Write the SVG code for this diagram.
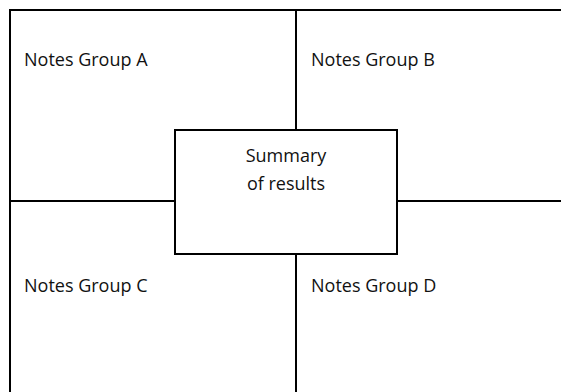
<svg xmlns="http://www.w3.org/2000/svg" width="561" height="392" viewBox="0 0 561 392">
  <style>
    .ln { stroke: #000; stroke-width: 2; fill: none; }
    .box { fill: #fff; stroke: #000; stroke-width: 2; }
    .t { font-family: "Open Sans", "Noto Sans", sans-serif; font-size: 18px; fill: #111; }
    .c { text-anchor: middle; }
  </style>
  <rect width="561" height="392" fill="#fff"/>
  <g id="connectors">
    <line class="ln" x1="9" y1="10" x2="561" y2="10"/>
    <line class="ln" x1="10" y1="9" x2="10" y2="392"/>
    <line class="ln" x1="296" y1="10" x2="296" y2="130"/>
    <line class="ln" x1="296" y1="254" x2="296" y2="392"/>
    <line class="ln" x1="10" y1="201" x2="175" y2="201"/>
    <line class="ln" x1="397" y1="201" x2="561" y2="201"/>
  </g>
  <g id="groupA">
    <text class="t" x="24" y="66">Notes Group A</text>
  </g>
  <g id="groupB">
    <text class="t" x="311" y="66">Notes Group B</text>
  </g>
  <g id="groupC">
    <text class="t" x="24" y="292">Notes Group C</text>
  </g>
  <g id="groupD">
    <text class="t" x="311" y="292">Notes Group D</text>
  </g>
  <g id="summary">
    <rect class="box" x="175" y="130" width="222" height="124"/>
    <text class="t c" x="286" y="162">Summary</text>
    <text class="t c" x="286" y="190">of results</text>
  </g>
</svg>
